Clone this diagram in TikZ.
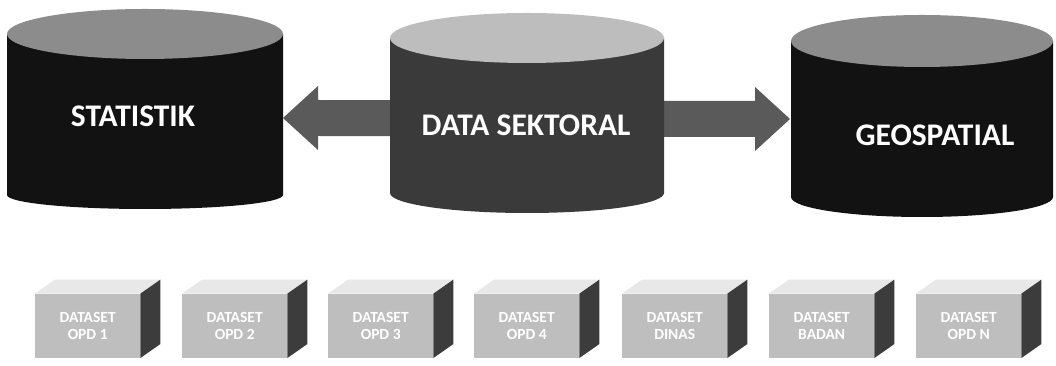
\documentclass[tikz,border=0pt]{standalone}
\usepackage{fontspec}
\setmainfont{Carlito}
\usetikzlibrary{calc}
\definecolor{cylblack}{HTML}{121212}
\definecolor{cylmid}{HTML}{3A3A3A}
\definecolor{topdark}{HTML}{8C8C8C}
\definecolor{toplight}{HTML}{BDBDBD}
\definecolor{arrowgray}{HTML}{5A5A5A}
\definecolor{boxfront}{HTML}{BEBEBE}
\definecolor{boxtop}{HTML}{E8E8E8}
\definecolor{boxside}{HTML}{3C3C3C}
\newcommand{\dbcyl}[8]{%
  \fill[#7] (#1-#2,#3) -- (#1-#2,#5) arc[start angle=180,end angle=360,x radius=#2pt,y radius=#6pt] -- (#1+#2,#3) -- cycle;
  \fill[#8] (#1,#3) ellipse[x radius=#2pt,y radius=#4pt];
}
\tikzset{
  cyltext/.style={text=white,font=\fontsize{31.5}{36}\selectfont\bfseries,inner sep=0pt},
  dsfront/.style={fill=boxfront,minimum width=105pt,minimum height=64pt,anchor=south west,inner sep=0pt,
    text=white,align=center,font=\fontsize{15.5}{17}\selectfont\bfseries},
}
\newcommand{\dsbox}[3]{%
  \node[dsfront] (#2) at (#1,8) {DATASET\\#3};
  \fill[boxtop] (#2.north west) -- ++(20,14) -- ($(#2.north east)+(20,14)$) -- (#2.north east) -- cycle;
  \fill[boxside] (#2.south east) -- ++(20,14) -- ($(#2.north east)+(20,14)$) -- (#2.north east) -- cycle;
}
\begin{document}
\begin{tikzpicture}[x=1pt,y=1pt]
\useasboundingbox (0,0) rectangle (1056,366);
\fill[white] (0,0) rectangle (1056,366);
% edges of the side cylinders where the arrow touches them
\coordinate (stat-e) at (283,248);
\coordinate (geo-w) at (790,247);
% double block arrow (behind the middle cylinder)
\fill[arrowgray] (stat-e) -- ++(35,32) -- ++(0,-14) -- ($(geo-w)+(-35,18)$) -- ++(0,14) -- (geo-w)
  -- ++(-35,-32) -- ++(0,14) -- ($(stat-e)+(35,-18)$) -- ++(0,-14) -- cycle;
% cylinders
\dbcyl{145}{138}{332}{25}{171}{14}{cylblack}{topdark}
\dbcyl{527}{137}{328}{25}{173}{20}{cylmid}{toplight}
\dbcyl{922}{131}{325}{26}{169}{20}{cylblack}{topdark}
\node[cyltext] (stat) at (133,250) {STATISTIK};
\node[cyltext] (sekt) at (526,241) {DATA SEKTORAL};
\node[cyltext] (geo) at (935,231) {GEOSPATIAL};
% dataset boxes
\dsbox{35}{b1}{OPD 1}
\dsbox{182}{b2}{OPD 2}
\dsbox{328}{b3}{OPD 3}
\dsbox{474}{b4}{OPD 4}
\dsbox{622}{b5}{DINAS}
\dsbox{769}{b6}{BADAN}
\dsbox{916}{b7}{OPD N}
\end{tikzpicture}
\end{document}
